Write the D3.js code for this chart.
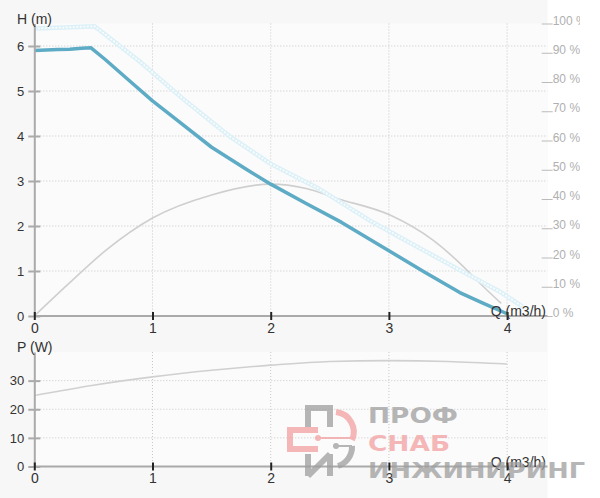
<!DOCTYPE html>
<html><head><meta charset="utf-8">
<script src="https://cdn.jsdelivr.net/npm/d3@7"></script>
<style>
html,body{margin:0;padding:0;background:#fff;}
svg{display:block;font-family:"Liberation Sans",Arial,sans-serif;}
</style></head>
<body>
<svg id="c" width="600" height="498"></svg>
<script>
// ---- data ----
const qTicks = [0, 1, 2, 3, 4];
const hTicks = [0, 1, 2, 3, 4, 5, 6];
const pctTicks = [0, 10, 20, 30, 40, 50, 60, 70, 80, 90, 100];
const pTicks = [0, 10, 20, 30];

const headQ = [0, 0.1, 0.2, 0.3, 0.4, 0.48, 0.6, 0.8, 1.0, 1.2, 1.5, 1.8, 2.0, 2.3, 2.6, 3.0, 3.3, 3.6, 3.8, 4.0];
const headH = [5.90, 5.91, 5.92, 5.93, 5.95, 5.96, 5.70, 5.24, 4.78, 4.37, 3.75, 3.25, 2.93, 2.50, 2.08, 1.45, 0.98, 0.52, 0.28, 0.05];

const maxQ = [0, 0.25, 0.51, 0.9, 1.26, 1.66, 2.0, 2.4, 2.84, 3.1, 3.6, 3.94, 4.13];
const maxH = [6.39, 6.41, 6.44, 5.64, 4.82, 3.98, 3.38, 2.84, 2.12, 1.74, 1.02, 0.54, 0.21];

const effQ = [0, 0.3, 0.61, 1.0, 1.5, 2.0, 2.3, 2.56, 3.01, 3.37, 3.63, 3.77, 3.95];
const effPct = [0, 11.4, 22.6, 33.5, 41.4, 45.1, 43.6, 40.2, 34.5, 26.0, 16.9, 11.2, 4.3];

const powQ = [0, 0.5, 1, 1.5, 2, 2.5, 3, 3.5, 4];
const powW = [24.8, 28.4, 31.3, 33.6, 35.4, 36.7, 37.0, 36.7, 35.8];

// ---- scales ----
const svg = d3.select("#c");
const x = d3.scaleLinear().domain([0, 4]).range([34.3, 507.1]);
const yH = d3.scaleLinear().domain([0, 6.5]).range([316, 23.5]);
const yPct = d3.scaleLinear().domain([0, 100]).range([316, 23.5]);
const yP = d3.scaleLinear().domain([0, 40]).range([466.5, 352]);
const plotRight = 547.5;

svg.append("defs").append("clipPath").attr("id", "clipR")
  .append("rect").attr("x", 0).attr("y", 0).attr("width", 580).attr("height", 498);

// backgrounds
svg.append("rect").attr("x", 0).attr("y", 0).attr("width", plotRight).attr("height", 498).attr("fill", "#f7f7f7");
svg.append("rect").attr("x", x(0)).attr("y", yH(6.5)).attr("width", plotRight - x(0)).attr("height", yH(0) - yH(6.5)).attr("fill", "#fbfbfb");
svg.append("rect").attr("x", x(0)).attr("y", yP(40)).attr("width", plotRight - x(0)).attr("height", yP(0) - yP(40)).attr("fill", "#fbfbfb");

// ---- grids ----
const grid = svg.append("g").attr("stroke", "#c8c8c8").attr("stroke-width", 1).attr("stroke-dasharray", "1,2");
hTicks.filter(d => d > 0).forEach(d => grid.append("line").attr("x1", x(0)).attr("x2", plotRight).attr("y1", yH(d)).attr("y2", yH(d)));
qTicks.filter(d => d > 0).forEach(d => grid.append("line").attr("x1", x(d)).attr("x2", x(d)).attr("y1", yH(6.5)).attr("y2", yH(0)));
pTicks.filter(d => d > 0).forEach(d => grid.append("line").attr("x1", x(0)).attr("x2", plotRight).attr("y1", yP(d)).attr("y2", yP(d)));
qTicks.filter(d => d > 0).forEach(d => grid.append("line").attr("x1", x(d)).attr("x2", x(d)).attr("y1", yP(40)).attr("y2", yP(0)));

// ---- curves ----
const pts = (a, b) => a.map((v, i) => [v, b[i]]);
const lineH = d3.line().x(d => x(d[0])).y(d => yH(d[1]));
const linePct = d3.line().x(d => x(d[0])).y(d => yPct(d[1])).curve(d3.curveMonotoneX);
const lineP = d3.line().x(d => x(d[0])).y(d => yP(d[1])).curve(d3.curveMonotoneX);

svg.append("path").attr("d", linePct(pts(effQ, effPct))).attr("fill", "none").attr("stroke", "#cfcfcf").attr("stroke-width", 1.6);
// max curve: chain of small rings
svg.append("path").attr("d", lineH(pts(maxQ, maxH))).attr("fill", "none").attr("stroke", "#dcf0f7").attr("stroke-width", 4.5);
svg.append("path").attr("d", lineH(pts(maxQ, maxH))).attr("fill", "none").attr("stroke", "#fafdfe").attr("stroke-width", 1.8).attr("stroke-dasharray", "2,1.5");
svg.append("path").attr("d", lineH(pts(headQ, headH))).attr("fill", "none").attr("stroke", "#5eabc6").attr("stroke-width", 3.5).attr("stroke-linejoin", "round");
svg.append("path").attr("d", lineP(pts(powQ, powW))).attr("fill", "none").attr("stroke", "#d0d0d0").attr("stroke-width", 1.6);

// ---- axes ----
function styleLeft(g) {
  g.select(".domain").attr("stroke", "#aaa").attr("stroke-width", 2);
  g.selectAll(".tick line").attr("stroke", "#aaa").attr("stroke-width", 2).attr("x1", 6).attr("x2", -6);
  g.selectAll(".tick text").attr("fill", "#333").attr("font-size", 13).attr("x", -10);
}
function styleBottom(g) {
  g.select(".domain").attr("stroke", "#aaa").attr("stroke-width", 2);
  g.selectAll(".tick line").attr("stroke", "#222").attr("stroke-width", 2).attr("y1", -4).attr("y2", 4);
  g.selectAll(".tick text").attr("fill", "#333").attr("font-size", 14).attr("y", 4).attr("dy", "0.9em");
}
svg.append("g").attr("transform", `translate(${x(0)},0)`)
  .call(d3.axisLeft(yH).tickValues(hTicks).tickSize(6).tickSizeOuter(0).tickFormat(d3.format("d")))
  .call(styleLeft).attr("font-family", null);
svg.append("g").attr("transform", `translate(0,${yH(0)})`)
  .call(d3.axisBottom(x).tickValues(qTicks).tickSizeOuter(0).tickFormat(d3.format("d")))
  .call(g => g.select(".domain").attr("d", `M${x(0)},0H${plotRight}`))
  .call(styleBottom).attr("font-family", null);
svg.append("g").attr("clip-path", "url(#clipR)").append("g").attr("transform", `translate(541.7,0)`)
  .call(d3.axisRight(yPct).tickValues(pctTicks).tickSize(11).tickFormat(d => d + " %"))
  .call(g => {
    g.select(".domain").remove();
    g.selectAll(".tick line").attr("stroke", "#bbb").attr("stroke-width", 1);
    g.selectAll(".tick text").attr("fill", "#b0b0b0").attr("font-size", 12).attr("x", 11).attr("dy", "0.05em");
  }).attr("font-family", null);

svg.append("g").attr("transform", `translate(${x(0)},0)`)
  .call(d3.axisLeft(yP).tickValues(pTicks).tickSize(6).tickSizeOuter(0).tickFormat(d3.format("d")))
  .call(styleLeft).attr("font-family", null);
svg.append("g").attr("transform", `translate(0,${yP(0)})`)
  .call(d3.axisBottom(x).tickValues(qTicks).tickSizeOuter(0).tickFormat(d3.format("d")))
  .call(g => g.select(".domain").attr("d", `M${x(0)},0H${plotRight}`))
  .call(styleBottom).attr("font-family", null);

// ---- titles ----
svg.append("text").attr("x", 17).attr("y", 24).attr("font-size", 14).attr("fill", "#333").text("H (m)");
svg.append("text").attr("x", 546).attr("y", 316).attr("text-anchor", "end").attr("font-size", 14).attr("fill", "#333").text("Q (m3/h)");
svg.append("text").attr("x", 17).attr("y", 352).attr("font-size", 14).attr("fill", "#333").text("P (W)");
svg.append("text").attr("x", 546).attr("y", 467).attr("text-anchor", "end").attr("font-size", 14).attr("fill", "#333").text("Q (m3/h)");

// ---- watermark (overlay) ----
const wm = svg.append("g").attr("opacity", 0.75);
wm.append("text").attr("x", 368).attr("y", 423).attr("font-family", "DejaVu Sans").attr("font-weight", "bold")
  .attr("font-size", 21).attr("textLength", 90).attr("lengthAdjust", "spacingAndGlyphs").attr("fill", "#9e9e9e").text("ПРОФ");
wm.append("text").attr("x", 368).attr("y", 451).attr("font-family", "DejaVu Sans").attr("font-weight", "bold")
  .attr("font-size", 21).attr("textLength", 82).attr("lengthAdjust", "spacingAndGlyphs").attr("fill", "#f2a0a0").text("СНАБ");
wm.append("text").attr("x", 368).attr("y", 478).attr("font-family", "DejaVu Sans").attr("font-weight", "bold")
  .attr("font-size", 22).attr("textLength", 217).attr("lengthAdjust", "spacingAndGlyphs").attr("fill", "#9e9e9e").text("ИНЖИНИРИНГ");
wm.append("path").attr("d", "M308,427 V408 H330 V427").attr("fill", "none").attr("stroke", "#9e9e9e").attr("stroke-width", 6);
wm.append("path").attr("d", "M318,430 H290 V449 H318").attr("fill", "none").attr("stroke", "#f2a0a0").attr("stroke-width", 6);
wm.append("path").attr("d", "M308,454 V476 M308,476 L330,454 M330,454 V476").attr("fill", "none").attr("stroke", "#9e9e9e").attr("stroke-width", 6);
wm.append("path").attr("d", "M336,412 A20,20 0 0 1 352,440").attr("fill", "none").attr("stroke", "#f2a0a0").attr("stroke-width", 6);
wm.append("path").attr("d", "M352,446 A20,20 0 0 1 338,466").attr("fill", "none").attr("stroke", "#9e9e9e").attr("stroke-width", 6);
wm.append("line").attr("x1", 318).attr("y1", 438).attr("x2", 352).attr("y2", 438).attr("stroke", "#f2a0a0").attr("stroke-width", 2);
wm.append("circle").attr("cx", 318).attr("cy", 438).attr("r", 3).attr("fill", "#f2a0a0");
wm.append("line").attr("x1", 336).attr("y1", 446).attr("x2", 352).attr("y2", 446).attr("stroke", "#9e9e9e").attr("stroke-width", 2);
wm.append("circle").attr("cx", 336).attr("cy", 446).attr("r", 3).attr("fill", "#9e9e9e");
</script>
</body></html>
